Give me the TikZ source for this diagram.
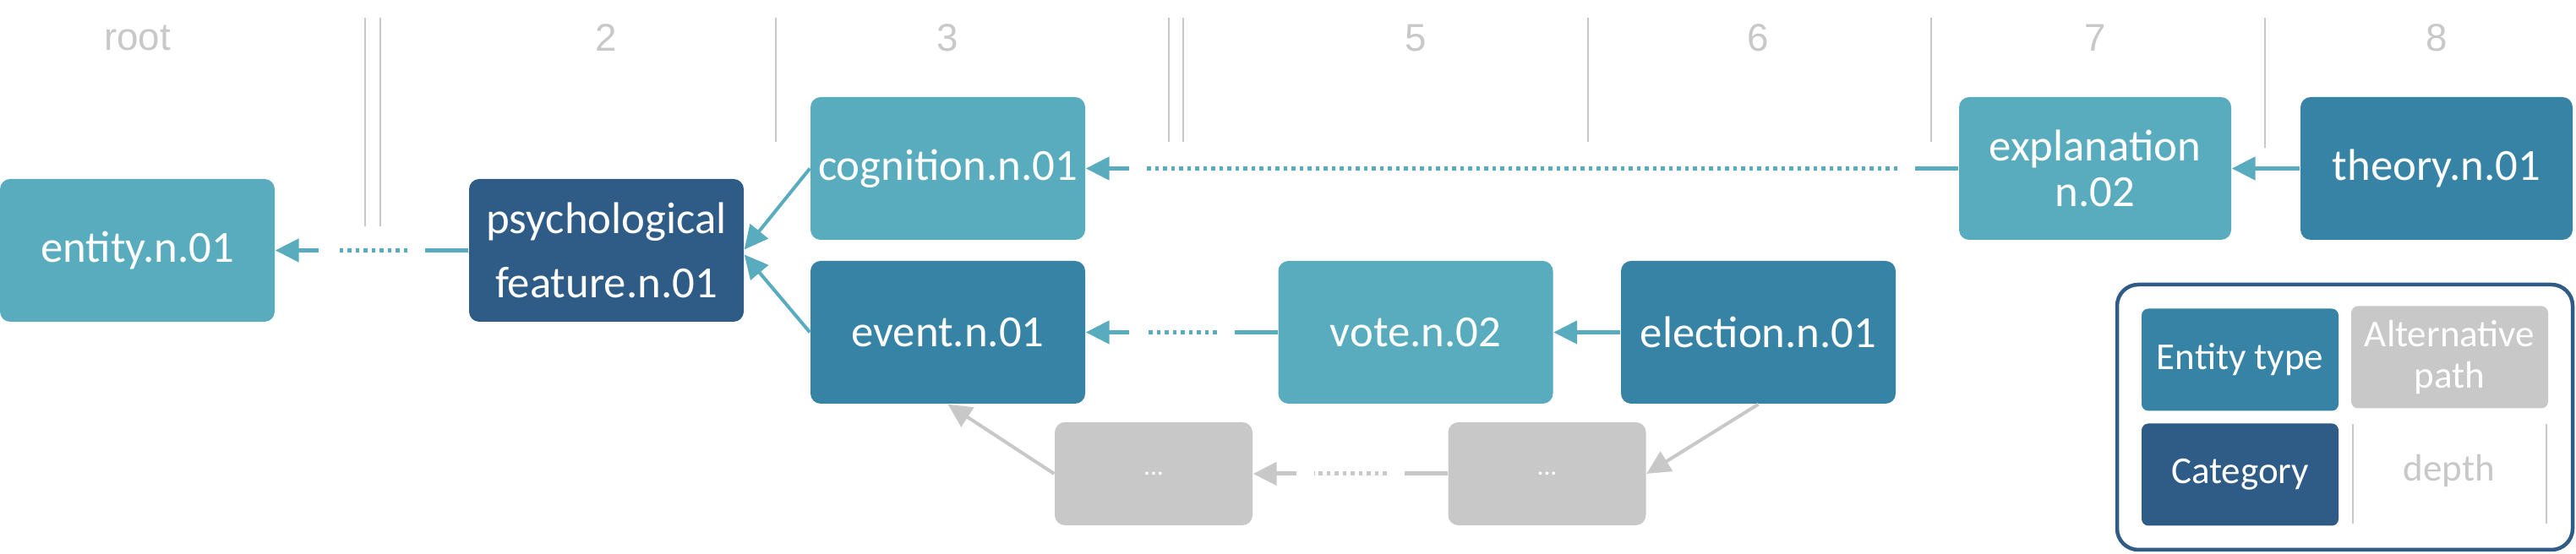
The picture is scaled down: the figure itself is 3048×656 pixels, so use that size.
\documentclass[tikz,border=0pt]{standalone}
\usepackage{fontspec}
\setmainfont{Carlito}
\newfontfamily\headfont{Liberation Sans}
\usepackage{tikz}
\usetikzlibrary{arrows.meta,calc}
\definecolor{tealL}{RGB}{88,172,190}
\definecolor{tealM}{RGB}{54,131,165}
\definecolor{navy}{RGB}{46,92,135}
\definecolor{lgray}{RGB}{200,200,200}

\begin{document}
\begin{tikzpicture}[x=0.1mm,y=-0.1mm,>={Triangle[length=2.8mm,width=2.7mm]},
box/.style={rectangle,rounded corners=1.2mm,minimum width=32.5mm,minimum height=16.9mm,inner sep=0pt,text=white,align=center,font=\fontsize{15}{15.6}\selectfont},
light/.style={box,fill=tealL},
mid/.style={box,fill=tealM},
dark/.style={box,fill=navy},
alt/.style={box,fill=lgray,minimum width=23.4mm,minimum height=12.2mm,font=\fontsize{9}{10}\selectfont},
key/.style={box,rounded corners=0.8mm,minimum width=23.3mm,minimum height=12.1mm,font=\fontsize{12.8}{14.2}\selectfont},
head/.style={text=lgray,inner sep=0pt,font=\headfont\fontsize{13}{15}\selectfont},
sep/.style={lgray,line width=0.2mm},
link/.style={line width=0.5mm},
thin link/.style={tealL,line width=0.4mm}]
\useasboundingbox (0,0) rectangle (3048,656);
% depth separators
\foreach \x in {432,450}
\draw[sep] (\x,21) -- (\x,268);
\foreach \x in {918,1383,1400,1879,2285}
\draw[sep] (\x,21) -- (\x,168);
\draw[sep] (2680,21) -- (2680,175);
% synsets
\node[light] (entity) at (162.5,296.5) {entity.n.01};
\node[dark,font=\fontsize{15}{21.6}\selectfont] (psych) at (717.5,296.5) {psychological\\feature.n.01};
\node[light] (cognition) at (1121.5,199.5) {cognition.n.01};
\node[mid] (event) at (1121.5,393.5) {event.n.01};
\node[light] (vote) at (1675,393.5) {vote.n.02};
\node[mid] (election) at (2080.5,393.5) {election.n.01};
\node[light,minimum width=32.2mm] (expl) at (2479,199.5) {explanation\\n.02};
\node[mid,minimum width=32.2mm] (theory) at (2883,199.5) {theory.n.01};
\node[alt] (dotsA) at (1365,561) {...};
\node[alt] (dotsB) at (1830.5,561) {...};
% depth labels
\coordinate (top) at (0,45);
\foreach \n/\t in {entity/root,psych/2,cognition/3,vote/5,election/6,expl/7,theory/8}
\node[head] (h-\n) at (\n |- top) {\t};
% hypernym links
\draw[link,tealL,->] (election) -- (vote);
\draw[link,tealL,->] (theory) -- (expl);
\draw[thin link,->] (cognition.west) -- ([yshift=0.1mm]psych.east);
\draw[thin link,->] (event.west) -- ([yshift=-0.5mm]psych.east);
\draw[thin link,lgray,->] (dotsA.west) -- (event.south);
\draw[thin link,lgray,->] (election.south) -- (dotsB.east);
% skipped levels
\foreach \a/\b/\c in {psych/entity/tealL,vote/event/tealL,expl/cognition/tealL,dotsB/dotsA/lgray}{
\draw[link,\c] (\a.west) -- ($(\a.west)!5.1mm!(\b.east)$);
\draw[link,\c,dash pattern=on 0.45mm off 0.5mm] ($(\a.west)!7.2mm!(\b.east)$) -- ($(\b.east)!7.2mm!(\a.west)$);
\draw[link,\c,->] ($(\b.east)!5.1mm!(\a.west)$) -- (\b.east);
}
% legend
\node[draw=navy,line width=0.45mm,rounded corners=2.5mm,minimum width=53.9mm,minimum height=31.4mm,inner sep=0pt] (legend) at (2774.5,494) {};
\node[key,fill=tealM] (k-type) at (2650.5,426) {Entity type};
\node[key,fill=lgray] (k-alt) at (2898.5,423) {Alternative\\path};
\node[key,fill=navy] (k-cat) at (2650.5,562) {Category};
\foreach \x in {2784,3013}
\draw[sep] (\x,502) -- (\x,620);
\node[text=lgray,font=\fontsize{12.8}{14.2}\selectfont] (k-depth) at (2898,558) {depth};
\end{tikzpicture}
\end{document}
